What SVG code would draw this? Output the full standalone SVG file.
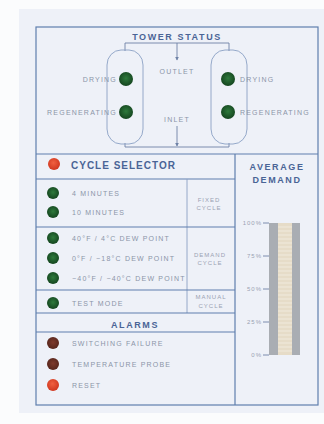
<svg xmlns="http://www.w3.org/2000/svg" width="324" height="424" viewBox="0 0 324 424">
<style>
.ln{stroke:#5f7fae;stroke-width:1.2;fill:none}
.thin{stroke:#8aa0c4;stroke-width:0.9;fill:none}
.pipe{stroke:#6e82a6;stroke-width:0.9;fill:none}
.hd{font-family:"Liberation Sans",Arial,sans-serif;font-size:9px;font-weight:bold;fill:#4a6496;letter-spacing:1.6px}
.hd2{font-family:"Liberation Sans",Arial,sans-serif;font-size:10px;font-weight:bold;fill:#4a6496;letter-spacing:1px}
.lb{font-family:"Liberation Sans",Arial,sans-serif;font-size:7px;fill:#8c95a8;letter-spacing:1.2px}
.sm{font-family:"Liberation Sans",Arial,sans-serif;font-size:6px;fill:#9aa2b3;letter-spacing:1px}
</style>
<defs>
<marker id="ah" viewBox="0 0 6 6" refX="5" refY="3" markerWidth="4" markerHeight="4" orient="auto"><path d="M0,0 L6,3 L0,6 z" fill="#6e82a6"/></marker>
<radialGradient id="gg" cx="0.5" cy="0.45" r="0.5"><stop offset="0" stop-color="#2e7a3c"/><stop offset="1" stop-color="#174a22"/></radialGradient>
<radialGradient id="rg" cx="0.45" cy="0.4" r="0.55"><stop offset="0" stop-color="#f06040"/><stop offset="1" stop-color="#d23a22"/></radialGradient>
<radialGradient id="bg" cx="0.5" cy="0.45" r="0.5"><stop offset="0" stop-color="#7e3a2c"/><stop offset="1" stop-color="#5a281e"/></radialGradient>
</defs>
<rect x="0" y="0" width="324" height="424" fill="#fbfcfd"/>
<rect x="19" y="9" width="305" height="404" fill="#eef1f8"/>
<rect x="36" y="27" width="282" height="378" class="ln"/>

<g id="tower-status">
<text x="177" y="39.5" text-anchor="middle" class="hd">TOWER STATUS</text>
<line x1="36" y1="154" x2="318" y2="154" class="ln"/>
</g>

<g id="connectors">
<path d="M125,51 V43 H229 V51" class="pipe"/>
<line x1="177" y1="43" x2="177" y2="60" class="pipe" marker-end="url(#ah)"/>
<path d="M125,143 V147 H229 V143" class="pipe"/>
<line x1="177" y1="126" x2="177" y2="146" class="pipe" marker-end="url(#ah)"/>
</g>

<g id="left-tower">
<rect x="107" y="50" width="36" height="94" rx="14" ry="15" class="thin"/>
<circle cx="126" cy="79" r="7" fill="url(#gg)"/>
<circle cx="126" cy="112" r="7" fill="url(#gg)"/>
<text x="117" y="81.5" text-anchor="end" class="lb">DRYING</text>
<text x="117" y="114.5" text-anchor="end" class="lb">REGENERATING</text>
</g>
<g id="right-tower">
<rect x="211" y="50" width="36" height="94" rx="14" ry="15" class="thin"/>
<circle cx="228" cy="79" r="7" fill="url(#gg)"/>
<circle cx="228" cy="112" r="7" fill="url(#gg)"/>
<text x="240" y="81.5" class="lb">DRYING</text>
<text x="240" y="114.5" class="lb">REGENERATING</text>
</g>
<g id="outlet"><text x="177" y="73.5" text-anchor="middle" class="lb">OUTLET</text></g>
<g id="inlet"><text x="177" y="121.5" text-anchor="middle" class="lb">INLET</text></g>

<g id="cycle-selector">
<line x1="235" y1="154" x2="235" y2="405" class="ln"/>
<line x1="36" y1="179" x2="235" y2="179" class="ln"/>
<circle cx="54" cy="164" r="6" fill="url(#rg)"/>
<text x="71" y="169" class="hd2">CYCLE SELECTOR</text>
<line x1="187" y1="179" x2="187" y2="313" class="thin"/>
<line x1="36" y1="227" x2="235" y2="227" class="ln"/>
<line x1="36" y1="290" x2="235" y2="290" class="ln"/>
<line x1="36" y1="313" x2="235" y2="313" class="ln" stroke-width="2"/>
<circle cx="53" cy="193" r="6" fill="url(#gg)"/>
<text x="72" y="195.5" class="lb">4 MINUTES</text>
<circle cx="53" cy="212" r="6" fill="url(#gg)"/>
<text x="72" y="214.5" class="lb">10 MINUTES</text>
<text x="209" y="202" text-anchor="middle" class="sm">FIXED</text>
<text x="209" y="210" text-anchor="middle" class="sm">CYCLE</text>
<circle cx="53" cy="238" r="6" fill="url(#gg)"/>
<text x="72" y="240.5" class="lb">40°F / 4°C DEW POINT</text>
<circle cx="53" cy="258" r="6" fill="url(#gg)"/>
<text x="72" y="260.5" class="lb">0°F / −18°C DEW POINT</text>
<circle cx="53" cy="278" r="6" fill="url(#gg)"/>
<text x="72" y="280.5" class="lb">−40°F / −40°C DEW POINT</text>
<text x="210" y="257" text-anchor="middle" class="sm">DEMAND</text>
<text x="210" y="265" text-anchor="middle" class="sm">CYCLE</text>
<circle cx="53" cy="303" r="6" fill="url(#gg)"/>
<text x="72" y="305.5" class="lb">TEST MODE</text>
<text x="211" y="299" text-anchor="middle" class="sm">MANUAL</text>
<text x="211" y="308" text-anchor="middle" class="sm">CYCLE</text>
</g>

<g id="alarms">
<text x="135" y="327.5" text-anchor="middle" class="hd">ALARMS</text>
<line x1="36" y1="332" x2="235" y2="332" class="ln"/>
<circle cx="53" cy="343" r="6" fill="url(#bg)"/>
<text x="72" y="345.5" class="lb">SWITCHING FAILURE</text>
<circle cx="53" cy="364" r="6" fill="url(#bg)"/>
<text x="72" y="366.5" class="lb">TEMPERATURE PROBE</text>
<circle cx="53" cy="385" r="6" fill="url(#rg)"/>
<text x="72" y="387.5" class="lb">RESET</text>
</g>

<g id="average-demand">
<text x="277" y="170" text-anchor="middle" class="hd">AVERAGE</text>
<text x="277" y="183" text-anchor="middle" class="hd">DEMAND</text>
<rect x="269" y="223" width="31" height="132" fill="#a9adb3"/>
<rect x="278" y="223" width="14" height="132" fill="#e6dcc8"/>
<path d="M278,227H292M278,231H292M278,235H292M278,239H292M278,243H292M278,247H292M278,251H292M278,255H292M278,259H292M278,263H292M278,267H292M278,271H292M278,275H292M278,279H292M278,283H292M278,287H292M278,291H292M278,295H292M278,299H292M278,303H292M278,307H292M278,311H292M278,315H292M278,319H292M278,323H292M278,327H292M278,331H292M278,335H292M278,339H292M278,343H292M278,347H292M278,351H292" stroke="#f3eee2" stroke-width="0.8"/>
<path d="M263,223H269M263,256H269M263,289H269M263,322H269M263,355H269" class="pipe"/>
<text x="262" y="225" text-anchor="end" class="sm">100%</text>
<text x="262" y="258" text-anchor="end" class="sm">75%</text>
<text x="262" y="291" text-anchor="end" class="sm">50%</text>
<text x="262" y="324" text-anchor="end" class="sm">25%</text>
<text x="262" y="357" text-anchor="end" class="sm">0%</text>
</g>
</svg>
